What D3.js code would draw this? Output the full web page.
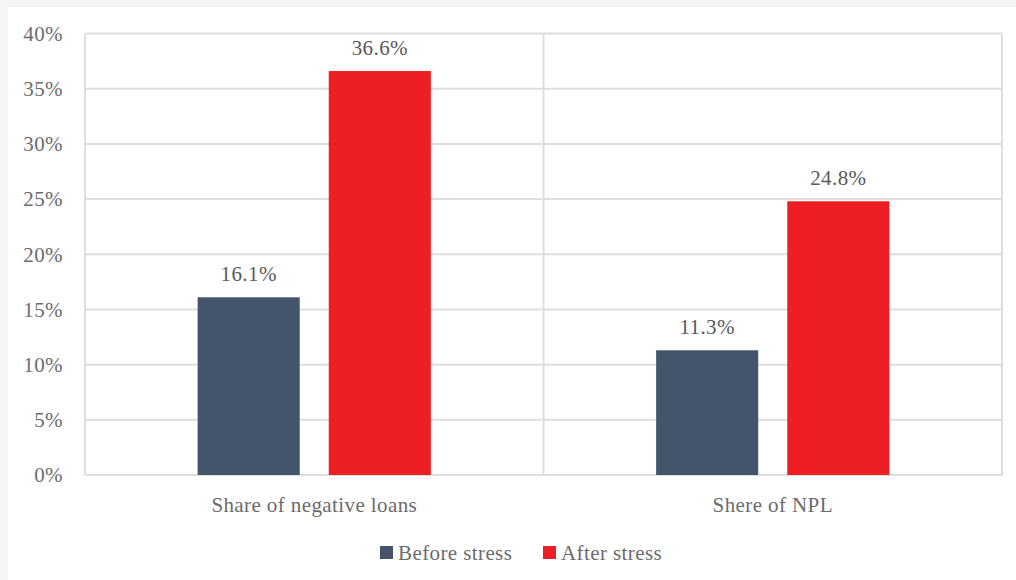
<!DOCTYPE html>
<html><head><meta charset="utf-8">
<script src="https://cdn.jsdelivr.net/npm/d3@7"></script>
<style>
html,body{margin:0;padding:0;background:#f4f5f7;}
svg{display:block;}
</style></head><body>
<svg id="c" width="1016" height="580"></svg>
<script>
const categories = ["Share of negative loans", "Shere of NPL"];
const seriesNames = ["Before stress", "After stress"];
const beforeStress = [16.1, 11.3];
const afterStress = [36.6, 24.8];
const yTicks = [0, 5, 10, 15, 20, 25, 30, 35, 40];
const colors = ["#44546a", "#ee1f24"];

const svg = d3.select("#c");
const font = "'Liberation Serif', 'DejaVu Serif', serif";
const fs = 21, ls = "0.4px";
svg.append("rect").attr("x", 8).attr("y", 7).attr("width", 1008).attr("height", 573).attr("fill", "#ffffff");

const L = 85, R = 1002, T = 33.5, B = 475;
const x0 = d3.scaleBand().domain(categories).range([L, R]).padding(0);
const x1 = d3.scaleBand().domain(seriesNames).range([0, x0.bandwidth()]).paddingInner(0.2214).paddingOuter(0.859);
const y = d3.scaleLinear().domain([0, 40]).range([B, T]);

const grid = svg.append("g");
grid.selectAll("line.h").data(yTicks).join("line")
  .attr("x1", L).attr("x2", R).attr("y1", d => y(d)).attr("y2", d => y(d))
  .attr("stroke", "#dedede").attr("stroke-width", 2);
const vx = [L, ...categories.map(c => x0(c) + x0.bandwidth()).slice(0, -1), R];
grid.selectAll("line.v").data(vx).join("line")
  .attr("x1", d => d).attr("x2", d => d).attr("y1", T).attr("y2", B)
  .attr("stroke", "#dedede").attr("stroke-width", 2);

svg.append("g").selectAll("text").data(yTicks).join("text")
  .attr("x", 63).attr("y", d => y(d)).attr("dy", "0.35em")
  .attr("text-anchor", "end").attr("font-family", font).attr("font-size", fs).attr("letter-spacing", ls).attr("fill", "#6b6b6b")
  .text(d => d + "%");

const series = [beforeStress, afterStress];
const data = [];
categories.forEach((c, i) => seriesNames.forEach((s, j) => data.push({c, s, v: series[j][i], j})));

svg.append("g").selectAll("rect").data(data).join("rect")
  .attr("x", d => x0(d.c) + x1(d.s)).attr("width", x1.bandwidth())
  .attr("y", d => y(d.v)).attr("height", d => y(0) - y(d.v))
  .attr("fill", d => colors[d.j]);

svg.append("g").selectAll("text").data(data).join("text")
  .attr("x", d => x0(d.c) + x1(d.s) + x1.bandwidth() / 2).attr("y", d => y(d.v) - 16)
  .attr("text-anchor", "middle").attr("font-family", font).attr("font-size", fs).attr("letter-spacing", ls).attr("fill", "#595959")
  .text(d => d.v.toFixed(1) + "%");

svg.append("g").selectAll("text").data(categories).join("text")
  .attr("x", d => x0(d) + x0.bandwidth() / 2).attr("y", 512)
  .attr("text-anchor", "middle").attr("font-family", font).attr("font-size", fs).attr("letter-spacing", ls).attr("fill", "#6b6b6b")
  .text(d => d);

const legendX = [380, 543];
const lg = svg.append("g").selectAll("g").data(seriesNames).join("g")
  .attr("transform", (d, i) => `translate(${legendX[i]},546)`);
lg.append("rect").attr("width", 13).attr("height", 13).attr("fill", (d, i) => colors[i]);
lg.append("text").attr("x", 18).attr("y", 6.5).attr("dy", "0.35em")
  .attr("font-family", font).attr("font-size", fs).attr("letter-spacing", ls).attr("fill", "#6b6b6b").text(d => d);
</script></body></html>
